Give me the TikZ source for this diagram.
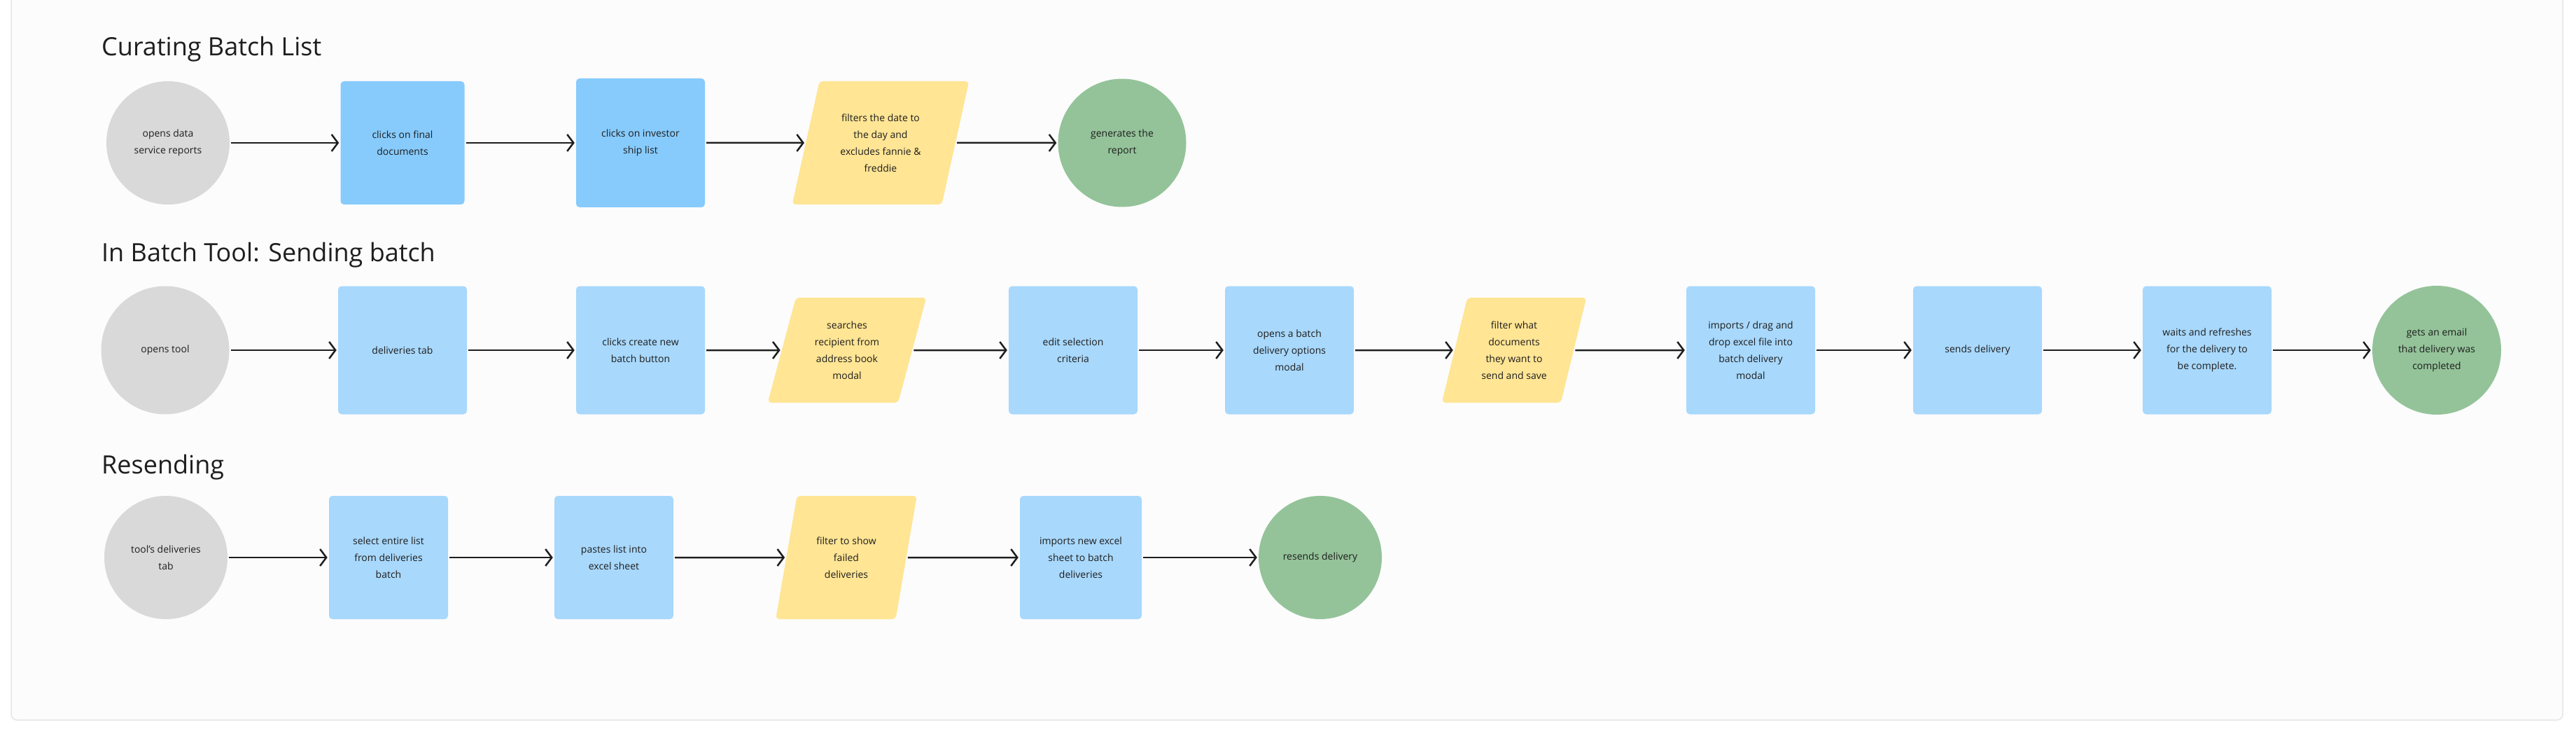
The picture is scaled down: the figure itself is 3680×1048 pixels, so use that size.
\documentclass[tikz,border=0pt]{standalone}
\usepackage{fontspec}
\setmainfont{Open Sans}
\usetikzlibrary{shapes.geometric,arrows.meta}
\definecolor{gcirc}{HTML}{D9D9D9}
\definecolor{bblue}{HTML}{87CBFD}
\definecolor{lblue}{HTML}{A8D8FC}
\definecolor{yel}{HTML}{FFE594}
\definecolor{grn}{HTML}{94C399}
\definecolor{panel}{HTML}{FCFCFC}
\definecolor{pborder}{HTML}{E6E6E6}
\definecolor{txt}{HTML}{1E1E1E}
\tikzset{
  base/.style={align=center,text=txt,font=\fontsize{14}{24}\selectfont,inner sep=2pt},
  circ/.style={base,circle,fill=gcirc,minimum size=#1},
  fin/.style={base,circle,fill=grn,minimum size=#1},
  box/.style args={#1/#2/#3}{base,rectangle,rounded corners=5pt,fill=#3,minimum width=#1,minimum height=#2},
  para/.style args={#1/#2}{base,trapezium,trapezium left angle=73,trapezium right angle=107,trapezium stretches=true,rounded corners=5pt,fill=yel,minimum width=#1,minimum height=#2},
  arr/.style={-{Straight Barb[length=9pt,width=24pt,line width=2.5pt]},line width=2.5pt,txt,shorten >=2pt,shorten <=2pt},
  title/.style={anchor=west,text=txt,font=\fontsize{36}{40}\selectfont,inner sep=0pt}
}
\begin{document}
\begin{tikzpicture}[x=1pt,y=-1pt]
\useasboundingbox (0,0) rectangle (3680,1048);
\fill[white] (0,0) rectangle (3680,1048);
\draw[pborder,fill=panel,line width=1.5pt,rounded corners=8pt] (16,-20) rectangle (3661,1028);
\node[title] (t1) at (145,70) {Curating Batch List};
\node[title] (t2) at (145,364) {In Batch Tool: Sending batch};
\node[title] (t3) at (145,667) {Resending};
% row 1
\node[circ=176] (a1) at (240,204) {opens data\\service reports};
\node[box=177/176/bblue] (a2) at (575,204) {clicks on final\\documents};
\node[box=184/184/bblue] (a3) at (915,204) {clicks on investor\\ship list};
\node[para=253/176] (a4) at (1258,204) {filters the date to\\the day and\\excludes fannie \&\\freddie};
\node[fin=183] (a5) at (1603,204) {generates the\\report};
\foreach \i/\j in {a1/a2,a2/a3,a3/a4,a4/a5} \draw[arr] (\i) -- (\j);
% row 2
\node[circ=183] (b1) at (236,500) {opens tool};
\node[box=184/183/lblue] (b2) at (575,500) {deliveries tab};
\node[box=184/183/lblue] (b3) at (915,500) {clicks create new\\batch button};
\node[para=227/150] (b4) at (1210,500) {searches\\recipient from\\address book\\modal};
\node[box=184/183/lblue] (b5) at (1533,500) {edit selection\\criteria};
\node[box=184/183/lblue] (b6) at (1842,500) {opens a batch\\delivery options\\modal};
\node[para=207/150] (b7) at (2163,500) {filter what\\documents\\they want to\\send and save};
\node[box=184/183/lblue] (b8) at (2501,500) {imports / drag and\\drop excel file into\\batch delivery\\modal};
\node[box=184/183/lblue] (b9) at (2825,500) {sends delivery};
\node[box=184/183/lblue] (b10) at (3153,500) {waits and refreshes\\for the delivery to\\be complete.};
\node[fin=184] (b11) at (3481,500) {gets an email\\that delivery was\\completed};
\foreach \i/\j in {b1/b2,b2/b3,b3/b4,b4/b5,b5/b6,b6/b7,b7/b8,b8/b9,b9/b10,b10/b11} \draw[arr] (\i) -- (\j);
% row 3
\node[circ=176] (c1) at (237,796) {tool's deliveries\\tab};
\node[box=170/176/lblue] (c2) at (555,796) {select entire list\\from deliveries\\batch};
\node[box=170/176/lblue] (c3) at (877,796) {pastes list into\\excel sheet};
\node[para=202/176] (c4) at (1209,796) {filter to show\\failed\\deliveries};
\node[box=174/176/lblue] (c5) at (1544,796) {imports new excel\\sheet to batch\\deliveries};
\node[fin=176] (c6) at (1886,796) {resends delivery};
\foreach \i/\j in {c1/c2,c2/c3,c3/c4,c4/c5,c5/c6} \draw[arr] (\i) -- (\j);
\end{tikzpicture}
\end{document}
